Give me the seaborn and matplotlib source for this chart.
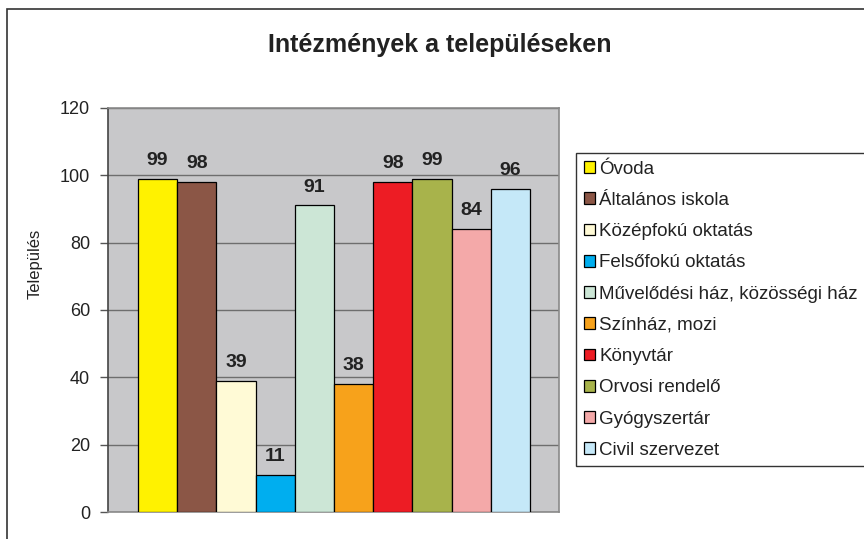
import matplotlib
matplotlib.use("Agg")
import matplotlib.pyplot as plt
from matplotlib.patches import Patch, Rectangle
import seaborn as sns
import pandas as pd

categories = ["Óvoda", "Általános iskola", "Középfokú oktatás", "Felsőfokú oktatás",
              "Művelődési ház, közösségi ház", "Színház, mozi", "Könyvtár",
              "Orvosi rendelő", "Gyógyszertár", "Civil szervezet"]
values = [99, 98, 39, 11, 91, 38, 98, 99, 84, 96]
colors = ["#FFF200", "#8B5646", "#FFFAD6", "#00AEEF", "#CCE6D6",
          "#F7A21B", "#ED1C24", "#A8B34B", "#F4A9A9", "#C5E8F8"]
yticks = [0, 20, 40, 60, 80, 100, 120]

sns.set_style("white")
plt.rcParams["font.family"] = ["Liberation Sans", "DejaVu Sans"]

df = pd.DataFrame({"cat": categories, "val": values})

fig = plt.figure(figsize=(8.64, 5.39), dpi=100)
ax = fig.add_axes([0.125, 0.050, 0.522, 0.750])

sns.barplot(data=df, x="cat", y="val", hue="cat", palette=colors, order=categories,
            hue_order=categories, width=1.0, edgecolor="black", linewidth=0.9,
            saturation=1, legend=False, ax=ax, zorder=3)

ax.set_facecolor("#C8C8CA")
ax.set_ylim(0, 120)
ax.set_xlim(-1.265, 10.24)
ax.set_yticks(yticks)
ax.set_yticklabels([str(t) for t in yticks], fontsize=13, color="#222222")
ax.set_xticks([])
ax.set_xlabel("")
ax.set_ylabel("Település", fontsize=12, color="#222222")
ax.yaxis.set_label_coords(-0.145, 0.614)
ax.yaxis.grid(True, color="#6E6E6E", linewidth=1.0, zorder=1)
ax.set_axisbelow(True)
ax.tick_params(axis="y", direction="out", length=6, width=1, color="#555555", pad=7, left=True)
for s in ["top", "right"]:
    ax.spines[s].set_color("#8A8A8A")
    ax.spines[s].set_linewidth(1.2)
ax.spines["left"].set_color("#444444")
ax.spines["bottom"].set_color("#8A8A8A")
ax.spines["left"].set_linewidth(1.2)
ax.spines["bottom"].set_linewidth(1.2)

for cont in ax.containers:
    ax.bar_label(cont, labels=[f"{int(v)}" for v in cont.datavalues], padding=7,
                 fontsize=14, fontweight="bold", color="#222222")

fig.text(0.509, 0.917, "Intézmények a településeken", ha="center", va="center",
         fontsize=18, fontweight="bold", color="#222222")

handles = [Patch(facecolor=c, edgecolor="black", linewidth=0.9, label=l)
           for c, l in zip(colors, categories)]
leg = fig.legend(handles=handles, loc="upper left", bbox_to_anchor=(0.6667, 0.716),
                 bbox_transform=fig.transFigure, fontsize=13.5, frameon=True,
                 fancybox=False, edgecolor="black", handlelength=0.6, handleheight=0.6,
                 handletextpad=0.25, labelspacing=0.76, borderpad=0.4, borderaxespad=0)
leg.get_frame().set_linewidth(1.0)
for t in leg.get_texts():
    t.set_color("#222222")

border = Rectangle((0.0081, -0.05), 1.05, 0.983 + 0.05, transform=fig.transFigure,
                   fill=False, edgecolor="#333333", linewidth=1.2)
fig.patches.append(border)

fig.savefig("out.png", dpi=100)
